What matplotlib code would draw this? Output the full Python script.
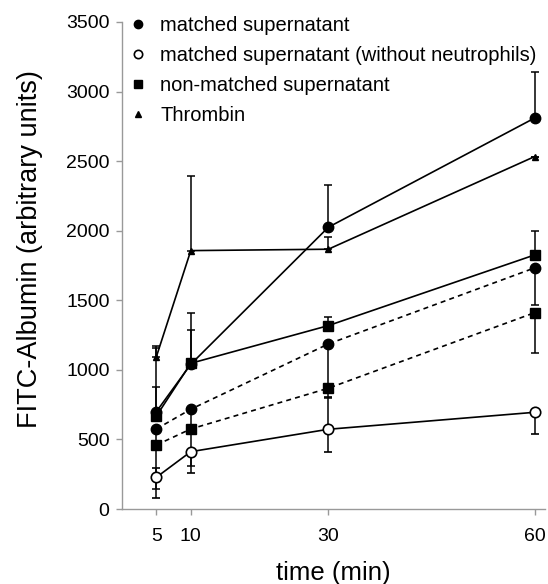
import matplotlib.pyplot as plt
from matplotlib.lines import Line2D

plt.rcParams['font.family'] = ['Liberation Sans', 'DejaVu Sans']

time_min = [5, 10, 30, 60]

# solid lines
matched = [700, 1040, 2025, 2810]
matched_up = [470, 370, 300, 330]
no_neutro = [228, 412, 573, 695]
no_neutro_lo = [150, 155, 160, 155]
no_neutro_up = [64, 0, 230, 0]
nonmatched = [668, 1047, 1318, 1826]
nonmatched_up = [210, 240, 65, 175]
thrombin = [1095, 1857, 1867, 2533]
thrombin_up = [60, 537, 85, 0]

# dashed lines (not in legend)
matched_d = [575, 717, 1186, 1733]
matched_d_lo = [115, 140, 320, 265]
nonmatched_d = [460, 575, 868, 1411]
nonmatched_d_lo = [316, 266, 70, 290]

zeros = [0, 0, 0, 0]

fig = plt.figure(figsize=(5.48, 5.84), dpi=100)
ax = fig.add_axes([122 / 548, 75 / 584, 423 / 548, 487 / 584])

eb = dict(color='black', lw=1.2, elinewidth=1.1, capsize=3, capthick=1.1)

ax.errorbar(time_min, nonmatched_d, yerr=[nonmatched_d_lo, zeros], fmt='s', ls=(0, (3, 2.5)),
            ms=7.5, mfc='black', mec='black', **eb)
ax.errorbar(time_min, matched_d, yerr=[matched_d_lo, zeros], fmt='o', ls=(0, (3, 2.5)),
            ms=7.5, mfc='black', mec='black', **eb)
ax.errorbar(time_min, no_neutro, yerr=[no_neutro_lo, no_neutro_up], fmt='o', ls='-',
            ms=7.5, mfc='white', mec='black', mew=1.2, **eb)
ax.errorbar(time_min, thrombin, yerr=[zeros, thrombin_up], fmt='^', ls='-',
            ms=5, mfc='black', mec='black', **eb)
ax.errorbar(time_min, nonmatched, yerr=[zeros, nonmatched_up], fmt='s', ls='-',
            ms=7.5, mfc='black', mec='black', **eb)
ax.errorbar(time_min, matched, yerr=[zeros, matched_up], fmt='o', ls='-',
            ms=7.5, mfc='black', mec='black', **eb)

ax.set_xlim(0, 61.5)
ax.set_ylim(0, 3500)
ax.set_xticks(time_min)
ax.set_yticks(range(0, 3501, 500))

for s in ['top', 'right']:
    ax.spines[s].set_visible(False)
for s in ['left', 'bottom']:
    ax.spines[s].set_color('#999999')
    ax.spines[s].set_linewidth(1.0)
ax.tick_params(axis='both', colors='#999999', labelcolor='black', labelsize=14, length=4, width=1.0)
ax.tick_params(axis='x', pad=10)
ax.tick_params(axis='y', pad=5)

ax.set_xlabel('time (min)', fontsize=18.5)
ax.set_ylabel('FITC-Albumin (arbitrary units)', fontsize=19.5)
ax.xaxis.set_label_coords(0.5, -0.107)
ax.yaxis.set_label_coords(-0.187, 0.534)

handles = [
    Line2D([], [], ls='none', marker='o', ms=6, mfc='black', mec='black'),
    Line2D([], [], ls='none', marker='o', ms=6, mfc='white', mec='black', mew=1.2),
    Line2D([], [], ls='none', marker='s', ms=6, mfc='black', mec='black'),
    Line2D([], [], ls='none', marker='^', ms=5, mfc='black', mec='black'),
]
labels = ['matched supernatant', 'matched supernatant (without neutrophils)',
          'non-matched supernatant', 'Thrombin']
fig.legend(handles, labels, loc='upper left', bbox_to_anchor=(128 / 548, 1 - 16 / 584),
           frameon=False, fontsize=14.5, handlelength=1.0, handletextpad=0.6,
           labelspacing=0.55, borderpad=0, borderaxespad=0)

fig.savefig('out.png', dpi=100)
